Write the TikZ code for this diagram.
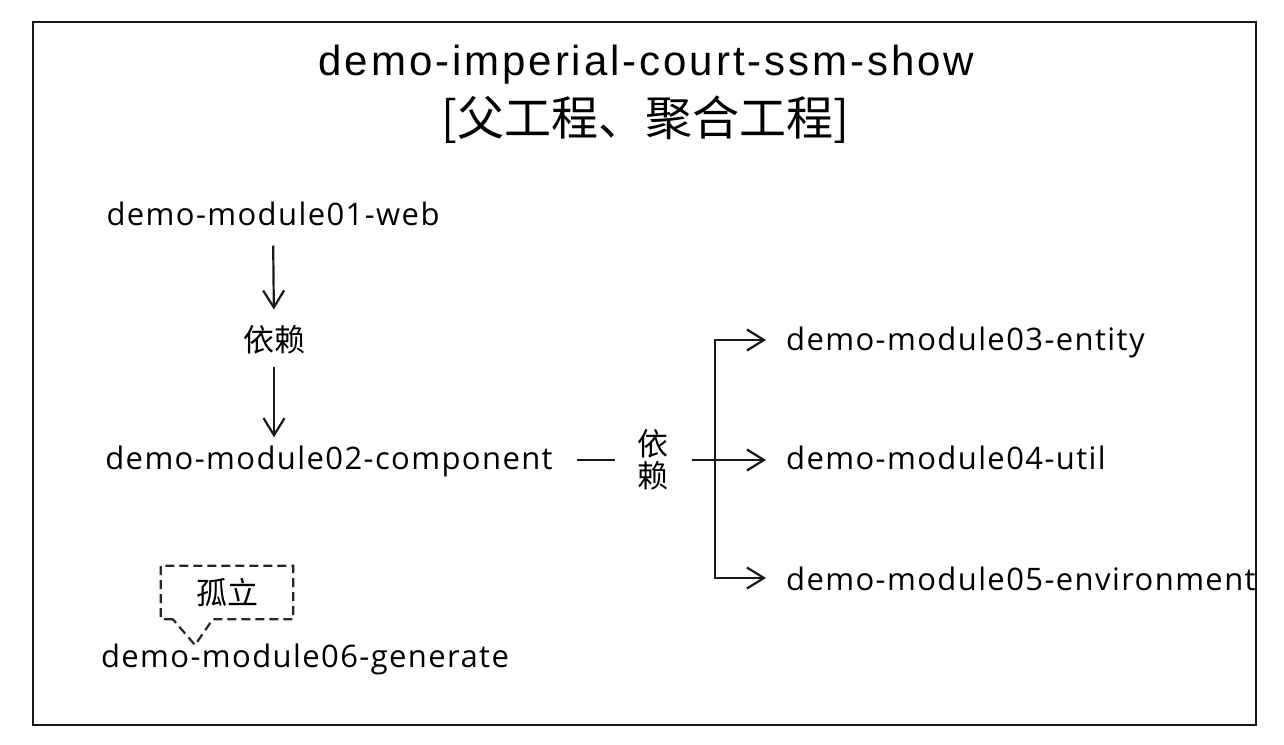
\documentclass[tikz,border=0pt]{standalone}
\usepackage{fontspec}
\setmainfont[LetterSpace=4.5]{Open Sans}
\newfontfamily\cjk{Noto Sans CJK SC}
\newfontfamily\titlefont[LetterSpace=7]{Liberation Sans}
\usetikzlibrary{arrows.meta}
\tikzset{
  modname/.style={inner sep=0pt, anchor=base, font=\fontsize{31}{36}\selectfont},
  cjklabel/.style={inner sep=0pt, font=\cjk\fontsize{31}{33}\selectfont},
  conn/.style={draw=black!90, line width=2.2pt},
  dep/.style={conn, -{Straight Barb[length=17pt,width=21pt,line width=2.2pt]}},
  isobox/.style={inner sep=0pt, minimum width=132pt, minimum height=53pt,
    font=\cjk\fontsize{31}{33}\selectfont},
  isoline/.style={draw=black!85, line width=2.2pt, dash pattern=on 9pt off 5pt},
}
\begin{document}
\begin{tikzpicture}[x=1pt,y=-1pt]
\useasboundingbox (0,0) rectangle (1284,744);
\draw[line width=2.2pt, black!90] (33,22) rectangle (1256,725);
% title
\node[inner sep=0pt, anchor=base, font=\titlefont\fontsize{42}{48}\selectfont] (title1) at (646.5,75) {demo-imperial-court-ssm-show};
\node[inner sep=0pt, font=\cjk\fontsize{47}{50}\selectfont] (title2) at (645,120) {[父工程、聚合工程]};
% modules
\node[modname] (m1) at (273,225) {demo-module01-web};
\node[modname] (m2) at (329,469) {demo-module02-component};
\node[modname, anchor=base west] (m3) at (786,350) {demo-module03-entity};
\node[modname, anchor=base west] (m4) at (786,469) {demo-module04-util};
\node[modname, anchor=base west] (m5) at (786,590) {demo-module05-environment};
\node[modname] (m6) at (305,667) {demo-module06-generate};
% labels
\node[cjklabel] (dep1) at (274,340) {依赖};
\coordinate (split) at (715,460);
% vertical dependency arrows
\draw[dep, shorten <=20pt, shorten >=16pt] (m1.south) -- (dep1.north);
\draw[dep, shorten <=12pt, shorten >=8pt] (dep1.south) -- (dep1.south |- m2.north);
% horizontal dependency
\draw[conn, shorten <=24pt] (m2.east |- split) -- node[cjklabel, fill=white, inner xsep=23pt, inner ysep=2pt, pos=0.62, align=center, font=\cjk\fontsize{31}{32}\selectfont] (dep2) {依\\赖} (split);
\draw[dep, shorten >=20pt] (split) |- ([yshift=10pt]m3.base west);
\draw[dep, shorten >=20pt] (split) -- (split -| m4.west);
\draw[dep, shorten >=20pt] (split) |- ([yshift=12pt]m5.base west);
% isolated callout
\node[isobox] (iso) at (227,592.5) {孤立};
\coordinate (tip) at (195,645);
\draw[isoline] ([xshift=12pt]iso.south west) -- (iso.south west) -- (iso.north west)
  -- (iso.north east) -- (iso.south east) -- ([xshift=52pt]iso.south west) -- (tip) -- cycle;
\end{tikzpicture}
\end{document}
